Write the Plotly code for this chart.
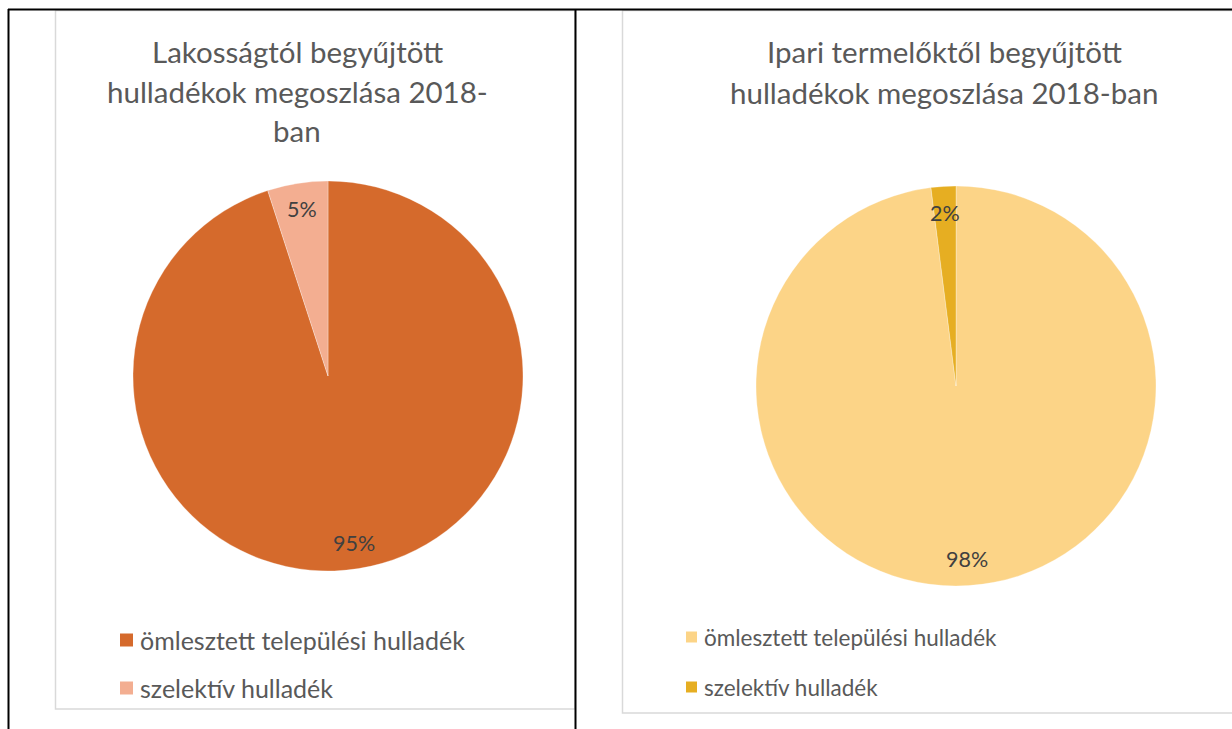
import math
import plotly.graph_objects as go

W, H = 1232, 729

# --- data ---------------------------------------------------------------
categories = ["ömlesztett települési hulladék", "szelektív hulladék"]
lakossagi_values = [95, 5]
ipari_values = [98, 2]
lakossagi_title = ["Lakosságtól begyűjtött", "hulladékok megoszlása 2018-", "ban"]
ipari_title = ["Ipari termelőktől begyűjtött", "hulladékok megoszlása 2018-ban"]
lakossagi_colors = ["#D56A2C", "#F3AE91"]
ipari_colors = ["#FCD487", "#E6AE22"]

FONT = "Lato"
TEXT_GREY = "#595959"
LABEL_GREY = "#404040"


def px(x):
    return x / W


def py(y):
    return 1 - y / H


# panel geometry in pixels
panels = [
    dict(values=lakossagi_values, colors=lakossagi_colors, title=lakossagi_title,
         cx=328, cy=376, r=195, title_x=297, title_y0=52, title_dy=39,
         legend_x=120, legend_y0=640, legend_dy=48, legend_font=25, sq=13,
         label_font=21.5),
    dict(values=ipari_values, colors=ipari_colors, title=ipari_title,
         cx=956, cy=386, r=200, title_x=944, title_y0=52, title_dy=40,
         legend_x=686, legend_y0=637, legend_dy=50, legend_font=22.5, sq=11,
         label_font=21.5),
]

fig = go.Figure()
annotations = []
shapes = []

for p in panels:
    cx, cy, r = p["cx"], p["cy"], p["r"]
    fig.add_trace(go.Pie(
        labels=categories,
        values=p["values"],
        sort=False,
        direction="clockwise",
        rotation=0,
        marker=dict(colors=p["colors"], line=dict(color="rgba(255,255,255,0.5)", width=0.6)),
        textinfo="none",
        hoverinfo="label+percent",
        showlegend=False,
        domain=dict(x=[px(cx - r), px(cx + r)], y=[py(cy + r), py(cy - r)]),
    ))

    # percentage labels at each slice's mid-angle
    total = sum(p["values"])
    cum = 0
    for v in p["values"]:
        mid = (cum + v / 2) / total * 2 * math.pi
        cum += v
        k = 0.865
        lx = cx + k * r * math.sin(mid)
        ly = cy - k * r * math.cos(mid)
        annotations.append(dict(
            x=px(lx), y=py(ly), xref="paper", yref="paper",
            text=f"{round(v / total * 100)}%", showarrow=False,
            font=dict(family=FONT, size=p["label_font"], color=LABEL_GREY),
            xanchor="center", yanchor="middle",
        ))

    # chart title, one line per entry
    for i, line in enumerate(p["title"]):
        annotations.append(dict(
            x=px(p["title_x"]), y=py(p["title_y0"] + i * p["title_dy"]),
            xref="paper", yref="paper", text=line, showarrow=False,
            font=dict(family=FONT, size=29.5, color=TEXT_GREY),
            xanchor="center", yanchor="middle",
        ))

    # legend entries
    for i, (name, col) in enumerate(zip(categories, p["colors"])):
        yy = p["legend_y0"] + i * p["legend_dy"]
        s = p["sq"]
        x0 = p["legend_x"]
        shapes.append(dict(
            type="rect", xref="paper", yref="paper",
            x0=px(x0), x1=px(x0 + s), y0=py(yy + s / 2), y1=py(yy - s / 2),
            fillcolor=col, line=dict(width=0),
        ))
        annotations.append(dict(
            x=px(x0 + s + 5), y=py(yy), xref="paper", yref="paper",
            text=name, showarrow=False,
            font=dict(family=FONT, size=p["legend_font"], color=TEXT_GREY),
            xanchor="left", yanchor="middle",
        ))

# chart panel frames
for x0, x1, y0, y1 in [(55.5, 575, 10.5, 709), (622.5, 1240, 10.5, 713)]:
    shapes.append(dict(
        type="rect", xref="paper", yref="paper", layer="below",
        x0=px(x0), x1=px(x1), y0=py(y1), y1=py(y0),
        line=dict(color="#D9D9D9", width=1.5), fillcolor="rgba(0,0,0,0)",
    ))

# table rules around the two charts
for x0, y0, x1, y1, w in [(8, 9.5, 1232, 9.5, 2), (8.5, 9, 8.5, 729, 2),
                          (575.5, 9, 575.5, 729, 2)]:
    shapes.append(dict(
        type="line", xref="paper", yref="paper",
        x0=px(x0), y0=py(y0), x1=px(x1), y1=py(y1),
        line=dict(color="#000000", width=w),
    ))

fig.update_layout(
    width=W, height=H,
    margin=dict(l=0, r=0, t=0, b=0),
    paper_bgcolor="white", plot_bgcolor="white",
    annotations=annotations, shapes=shapes,
    showlegend=False,
)

fig.write_html("out.html")
